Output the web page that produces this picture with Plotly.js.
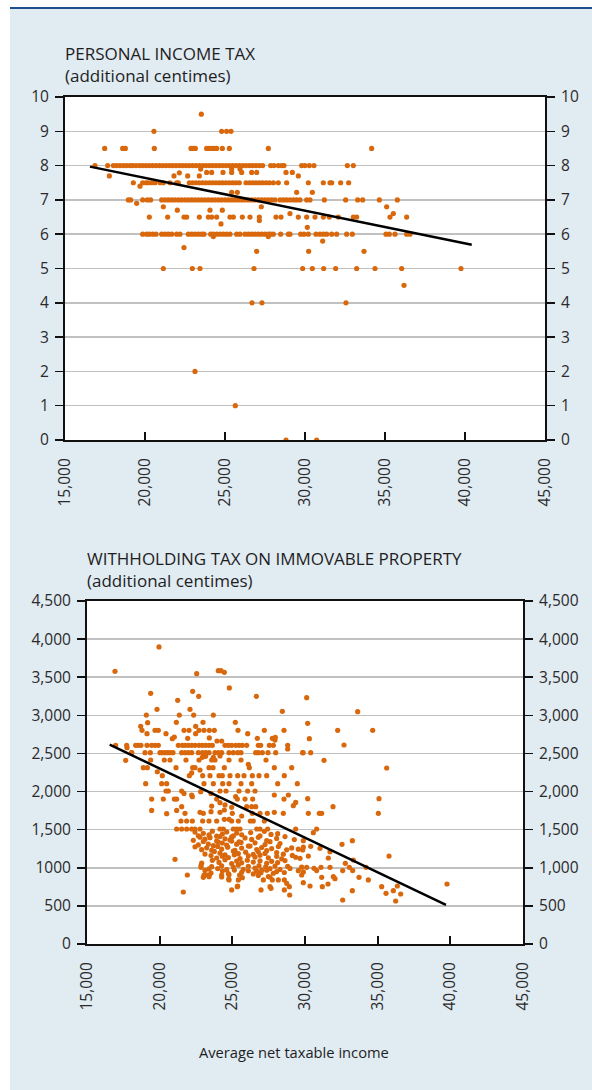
<!DOCTYPE html>
<html>
<head>
<meta charset="utf-8">
<script src="https://cdn.plot.ly/plotly-3.0.1.min.js"></script>
<style>
  html, body { margin: 0; padding: 0; background: #ffffff; }
  #panel { position: absolute; left: 10px; top: 7px; width: 582px; height: 1083px;
           background: #e1ebf2; border-top: 2px solid #1d4f8f; box-sizing: border-box; }
  #chart { position: absolute; left: 0; top: 0; width: 592px; height: 1090px; }
</style>
</head>
<body>
<div id="panel"></div>
<div id="chart"></div>
<script>
// ---------- Chart 1: Personal income tax (additional centimes) ----------
// x values (average net taxable income) of municipalities at each rate level
const pitLevels = [9.5, 9, 8.5, 8, 7.5, 7, 6.5, 6, 5, 4];
const pitAt95 = [23520];
const pitAt90 = [20560, 24790, 25100, 25375];
const pitAt85 = [17479, 18604, 18771, 20583, 22875, 23021, 23146, 23854, 24000, 24167, 24312, 24479, 24833, 25271, 27708, 34167];
const pitAt80 = [16875, 17667, 18021, 18229, 18437, 18646, 18854, 19062, 19229, 19437, 19646, 19854, 20062, 20271, 20479, 20687,
  20896, 21104, 21312, 21521, 21729, 21937, 22146, 22354, 22562, 22771, 22979, 23187, 23396, 23604, 23812, 24021, 24229,
  24437, 24646, 24854, 25062, 25271, 25479, 25687, 25896, 26104, 26312, 26521, 26729, 26937, 27146, 27354, 27854, 28062,
  28333, 28542, 28687, 29792, 30000, 30271, 30562, 32646, 33021];
const pitAt75 = [19271, 19854, 20062, 20208, 20417, 20625, 20937, 21146, 21562, 21979, 22083, 22771, 22979, 23187, 23396,
  23604, 23812, 24021, 24229, 24437, 24646, 24854, 25062, 25271, 25479, 25687, 25896, 26312, 26521, 26729, 26937, 27146,
  27354, 27562, 27771, 28021, 28333, 28854, 30208, 31146, 31562, 31667, 32229, 32729];
const pitAt70 = [18958, 19104, 19854, 20146, 20354, 21042, 21250, 21458, 21667, 21875, 22083, 22292, 22500, 22708, 22917,
  23125, 23333, 23542, 23750, 23958, 24167, 24375, 24583, 24792, 25000, 25208, 25417, 25625, 25833, 26042, 26250, 26458,
  26667, 26875, 27083, 27292, 27500, 27708, 27917, 28125, 28437, 28646, 28854, 29062, 29271, 29479, 29687, 30104, 30312,
  31208, 32542, 33292, 33604, 34646, 35771];
const pitAt65 = [20271, 21417, 22437, 22604, 23396, 23958, 24167, 24479, 25312, 25521, 26083, 26562, 27146, 28187, 28500,
  29583, 30104, 30625, 31146, 31521, 32083, 33021, 33229, 35312, 36354];
const pitAt60 = [19854, 20104, 20271, 20479, 20687, 21042, 21250, 21458, 21667, 21979, 22187, 22708, 22917, 23125, 23333,
  23542, 23687, 24104, 24271, 24479, 24687, 24896, 25104, 25312, 25729, 25937, 26250, 26458, 26667, 26875, 27083, 27292,
  27500, 27708, 27854, 28021, 28479, 28958, 29062, 29729, 29937, 30208, 30687, 30937, 31146, 31354, 31667, 31979, 32604,
  32958, 35062, 35271, 35625, 36354, 36562];
const pitAt50 = [21146, 22958, 23437, 26812, 29854, 30458, 31167, 31917, 33229, 34375, 36042, 39750];
const pitAt40 = [26690, 27310, 32560];
// scattered municipalities off the usual rate levels
const pitOtherX = [17771, 21812, 22146, 22667, 23396, 23479, 23854, 24167, 24875, 25417, 25417, 25937, 26042, 26667, 26979,
  28812, 29208, 29583, 19687, 25417, 25771, 29479, 30458, 19479, 21146, 22021, 24062, 24833, 27271, 29062, 35104, 35521,
  27146, 24750, 30146, 24271, 27708, 31104, 22437, 26979, 30229, 33687, 36187, 23125, 25646, 28812, 30729];
const pitOtherY = [7.7, 7.7, 7.79, 7.7, 7.7, 7.9, 7.8, 7.8, 7.8, 7.8, 7.9, 7.9, 7.8, 7.8, 7.8,
  7.8, 7.8, 7.7, 7.4, 7.22, 7.22, 7.22, 7.22, 6.9, 6.8, 6.7, 6.7, 6.7, 6.8, 6.6, 6.8, 6.6,
  6.4, 6.3, 6.2, 5.93, 5.93, 5.8, 5.61, 5.5, 5.5, 5.5, 4.51, 2.0, 1.0, 0, 0];
const pitTrendX = [16560, 40420];
const pitTrendY = [7.97, 5.69];

// ---------- Chart 2: Withholding tax on immovable property ----------
const whtX = [
  19954, 16927, 22546, 24037, 24220, 24450, 22271, 19381, 22684, 24794, 26652, 21239, 22087, 19817, 28440,
  19083, 21353, 22339, 23693, 25207, 19174, 21147, 22982, 18693, 22477,
  18785, 19679, 19908, 21674, 22019, 22706, 23050, 23417, 23761, 25390, 27202, 28555,
  19128, 20436, 22477, 26055, 21009, 20872, 23417, 21927, 26720, 27752, 27936, 23945, 24266, 27959,
  16972, 17729, 18349, 18532, 18715, 19128, 19449, 19679, 19908, 21285, 21560, 21743, 21972, 22202, 22431, 22706,
  22936, 23165, 23395, 23624, 24496, 24725, 24954, 25230, 25459, 25689, 25987, 26789, 26950, 27546, 27822, 28808,
  17752, 18073, 17661, 28808,
  18073, 18991, 19358, 20023, 20183, 20367, 20550, 20734, 20917, 21514, 21743, 21972, 22202, 22661, 22936, 23165,
  23395, 23807, 24037, 24266, 24771, 25069, 25367, 25597, 26606, 26789, 27064, 27454, 27982, 29863,
  23165, 23693, 22936, 24151,
  19381, 20321, 20711, 21812, 22706, 23578, 23807, 24771, 25597, 27317,
  26101, 26170, 18876, 19152, 21124, 22271, 22431, 23395, 23670, 24450, 27890, 29083,
  19840, 20183, 22041, 22202, 22775, 22959, 23463, 24082, 24312, 24840, 25367, 25803, 26376, 26835, 27363, 28578,
  19037, 20138, 20482, 23050, 23693, 24335, 24771, 25597, 26331, 28120, 29473,
  20436, 20596, 21514, 21674, 22202, 22821, 23532, 24151, 24564, 25459, 26055, 26560, 25230, 28853,
  19449, 20252, 21009, 21170, 22248, 23922, 25344, 25872, 26399, 27890, 28555, 29197, 29358,
  21514, 23578, 24496, 24954, 25987, 26331, 26606, 24151,
  19449, 20482, 21170, 21743, 22775, 23004, 23532, 24151, 24450, 25000, 25643, 26376, 26904, 27409, 27890, 28509,
  21468, 21858, 22248, 22959, 23395, 23922, 24450, 24771, 24954, 25413, 26239, 26445, 27202,
  21170, 21514, 21858, 22202, 22431, 22775, 24151, 24381, 25069, 25298, 25528, 26675, 26904, 27432, 29358,
  22431, 22661, 23005, 23395, 23624, 23922, 24312, 24610, 24954, 25298, 25642, 26262, 26904, 27202, 27661, 28120,
  22317, 22775, 23119, 23463, 23922, 24151, 24496, 24840, 25069, 25459, 25872, 26331, 26789, 27363, 28051, 28624, 29266,
  22661, 23005, 23349, 23693, 24037, 24312, 24610, 24954, 25298, 25597, 26101, 26560, 27248, 27592, 28280,
  22431, 22890, 23234, 23578, 23991, 24266, 24679, 25184, 25642, 26216, 26675, 27019, 27363, 27706, 28165, 28739, 29083, 29541, 29885,
  23119, 23762, 24151, 24496, 25069, 25413, 25917, 26445, 26789, 27248, 28051, 28509,
  23532, 23922, 24312, 24725, 25138, 25528, 26101, 26560, 26904, 27477, 28051, 28395, 29129, 29358,
  22890, 23624, 24082, 24496, 24954, 25298, 25642, 26032, 26445, 26904, 27363, 27706, 28120, 28624,
  22844, 23395, 23578, 23991, 24266, 24610, 25069, 25413, 25757, 26101, 26560, 26835, 27019, 27294, 27592, 27936, 28280, 28808, 28968, 29771,
  23119, 23532, 24312, 24725, 25138, 25642, 26101, 26445, 26675, 26973, 27363, 27821, 28051, 28578, 29541, 29885,
  21904, 23005, 23395, 24266, 24771, 25688, 26789, 27477, 27592,
  24771, 25413, 27133, 27752, 28165, 28578, 28739, 25367, 27592, 27661, 28922, 24954, 26973, 28578, 21628, 28945, 21055,
  22844, 23050, 23325, 23394, 24266, 24748, 25340, 25500,
  30115, 33624, 30184, 32248, 34657, 30299, 32684, 29840, 30391, 31308, 35620, 30184, 35092, 31927,
  30230, 30987, 31147, 35047, 30803, 30574, 29886, 33258, 32546, 30391, 29840, 31033, 31721,
  29657, 30230, 31606, 33326, 35781, 30115, 30620, 30803, 31102, 31721, 32592, 33051, 33280, 32776, 34198,
  29771, 31147, 31950, 32065, 33716, 34358, 29886, 30345, 31193, 31583, 35276, 36354, 36079, 35574, 36583,
  33257, 32592, 36239, 39771
];
const whtY = [
  3897, 3577, 3547, 3586, 3586, 3564, 3315, 3289, 3249, 3359, 3249, 3197, 3079, 3079, 3053,
  3004, 3004, 3004, 3004, 2908, 2904, 2908, 2908, 2856, 2856,
  2803, 2803, 2803, 2803, 2803, 2803, 2803, 2803, 2803, 2803, 2803, 2803,
  2760, 2760, 2760, 2760, 2716, 2694, 2703, 2698, 2698, 2698, 2676, 2663, 2663, 2711,
  2606, 2606, 2606, 2606, 2606, 2606, 2606, 2606, 2606, 2606, 2606, 2606, 2606, 2606, 2606, 2606,
  2606, 2606, 2606, 2606, 2606, 2606, 2606, 2606, 2606, 2606, 2606, 2606, 2606, 2606, 2606, 2606,
  2576, 2510, 2410, 2558,
  2510, 2510, 2510, 2510, 2510, 2510, 2510, 2510, 2510, 2510, 2510, 2510, 2510, 2510, 2510, 2510,
  2510, 2510, 2510, 2510, 2510, 2510, 2510, 2510, 2510, 2510, 2510, 2510, 2510, 2510,
  2462, 2449, 2449, 2467,
  2414, 2414, 2414, 2414, 2414, 2414, 2414, 2414, 2414, 2414,
  2357, 2313, 2313, 2313, 2313, 2313, 2313, 2313, 2313, 2313, 2313, 2313,
  2260, 2209, 2209, 2245, 2282, 2209, 2209, 2209, 2209, 2209, 2209, 2209, 2209, 2209, 2209, 2209,
  2104, 2104, 2104, 2104, 2104, 2104, 2104, 2104, 2104, 2104, 2104,
  2007, 2007, 2007, 1976, 1955, 1998, 1976, 2007, 2007, 2007, 2007, 2007, 1933, 1955,
  1902, 1902, 1902, 1902, 1933, 1902, 1902, 1902, 1902, 1955, 1902, 1815, 1858,
  1802, 1810, 1824, 1793, 1802, 1802, 1802, 1854,
  1753, 1710, 1753, 1714, 1727, 1714, 1736, 1727, 1758, 1714, 1679, 1714, 1714, 1714, 1727, 1714,
  1614, 1614, 1614, 1614, 1614, 1614, 1636, 1636, 1614, 1614, 1614, 1614, 1614,
  1509, 1509, 1509, 1509, 1509, 1509, 1509, 1509, 1509, 1509, 1509, 1509, 1509, 1509, 1509,
  1468, 1420, 1452, 1431, 1480, 1415, 1443, 1470, 1405, 1455, 1433, 1462, 1418, 1478, 1438, 1448,
  1360, 1402, 1375, 1395, 1350, 1410, 1380, 1365, 1418, 1340, 1392, 1372, 1400, 1355, 1385, 1410, 1370,
  1300, 1345, 1312, 1290, 1338, 1325, 1298, 1350, 1310, 1332, 1285, 1328, 1305, 1342, 1318,
  1275, 1238, 1262, 1230, 1280, 1245, 1270, 1228, 1258, 1285, 1240, 1266, 1225, 1252, 1278, 1235, 1260, 1244, 1270,
  1180, 1215, 1192, 1170, 1220, 1185, 1205, 1175, 1210, 1188, 1200, 1178,
  1160, 1128, 1152, 1135, 1170, 1122, 1158, 1140, 1165, 1130, 1150, 1118, 1162, 1138,
  1060, 1098, 1070, 1105, 1055, 1088, 1065, 1100, 1075, 1092, 1058, 1085, 1068, 1095,
  1030, 985, 1015, 990, 1025, 975, 1010, 1035, 980, 1020, 995, 1028, 970, 1012, 988, 1022, 978, 1018, 992, 1008,
  965, 930, 958, 925, 970, 940, 960, 920, 955, 935, 968, 928, 950, 938, 962, 945,
  905, 875, 898, 880, 910, 870, 900, 885, 878,
  840, 840, 840, 840, 840, 840, 796, 761, 752, 730, 752, 709, 709, 709, 682, 643, 1111,
  1006, 905, 905, 883, 905, 853, 752, 905,
  3232, 3048, 2895, 2803, 2803, 2694, 2611, 2510, 2510, 2410, 2309, 1907, 1907, 1802,
  1714, 1714, 1714, 1714, 1509, 1461, 1356, 1356, 1308, 1281, 1233, 1255, 1211,
  1124, 1154, 1128, 1102, 1154, 1006, 993, 963, 1006, 1006, 963, 1006, 963, 1058, 1006,
  905, 875, 883, 857, 875, 840, 805, 761, 752, 787, 752, 761, 700, 665, 656,
  700, 577, 564, 787
];
const whtTrendX = [16560, 39700];
const whtTrendY = [2615, 512];

// ---------- Axes text ----------
const xTicks = [15000, 20000, 25000, 30000, 35000, 40000, 45000];
const pitTicks = [0, 1, 2, 3, 4, 5, 6, 7, 8, 9, 10];
const whtTicks = [0, 500, 1000, 1500, 2000, 2500, 3000, 3500, 4000, 4500];
const whtTickTextLeft = ['0', '500', '1000', '1,500', '2,000', '2,500', '3,000', '3,500', '4,000', '4,500'];
const whtTickTextRight = ['0', '500', '1,000', '1,500', '2,000', '2,500', '3,000', '3,500', '4,000', '4,500'];
const title1 = 'PERSONAL INCOME TAX';
const title2 = 'WITHHOLDING TAX ON IMMOVABLE PROPERTY';
const subtitle = '(additional centimes)';
const xTitle = 'Average net taxable income';

// build chart 1 points from the rate-level arrays
const pitRows = [pitAt95, pitAt90, pitAt85, pitAt80, pitAt75, pitAt70, pitAt65, pitAt60, pitAt50, pitAt40];
let pitX = [], pitY = [];
pitRows.forEach((row, i) => { row.forEach(v => { pitX.push(v); pitY.push(pitLevels[i]); }); });
pitX = pitX.concat(pitOtherX); pitY = pitY.concat(pitOtherY);

const W = 592, H = 1090;
const orange = '#d9680c';
const FONT = '"Open Sans", "Noto Sans", sans-serif';
const tickFont = { family: FONT, size: 15.5, color: '#2a2a2a' };

const traces = [
  { x: pitX, y: pitY, xaxis: 'x', yaxis: 'y', type: 'scatter', mode: 'markers',
    marker: { color: orange, size: 5.2 }, hoverinfo: 'skip' },
  { x: pitTrendX, y: pitTrendY, xaxis: 'x', yaxis: 'y', type: 'scatter', mode: 'lines',
    line: { color: '#000000', width: 2.5 }, hoverinfo: 'skip' },
  // invisible carrier so the right-hand axis is drawn
  { x: pitTrendX, y: pitTrendY, xaxis: 'x', yaxis: 'y2', type: 'scatter', mode: 'lines',
    line: { color: 'rgba(0,0,0,0)', width: 0 }, hoverinfo: 'skip' },
  { x: whtX, y: whtY, xaxis: 'x2', yaxis: 'y3', type: 'scatter', mode: 'markers',
    marker: { color: orange, size: 5.2 }, hoverinfo: 'skip' },
  { x: whtTrendX, y: whtTrendY, xaxis: 'x2', yaxis: 'y3', type: 'scatter', mode: 'lines',
    line: { color: '#000000', width: 2.5 }, hoverinfo: 'skip' },
  { x: whtTrendX, y: whtTrendY, xaxis: 'x2', yaxis: 'y4', type: 'scatter', mode: 'lines',
    line: { color: 'rgba(0,0,0,0)', width: 0 }, hoverinfo: 'skip' }
];

function xAxis(domain, anchor) {
  return {
    domain: domain, anchor: anchor, range: [15000, 45000], tickvals: xTicks, tickformat: ',d',
    tickangle: -90, ticks: 'inside', ticklen: 8, tickwidth: 2, tickcolor: '#111',
    showline: true, linecolor: '#111', linewidth: 2, mirror: true,
    showgrid: false, zeroline: false, tickfont: tickFont, ticklabelstandoff: 10, fixedrange: true
  };
}
function yAxis(domain, anchor, range, vals, text, side, overlay) {
  const a = {
    domain: domain, anchor: anchor, range: range, tickvals: vals, ticktext: text, side: side,
    ticks: 'outside', ticklen: 8, tickwidth: 1.5, tickcolor: '#111',
    showline: true, linecolor: '#111', linewidth: 2,
    showgrid: !overlay, gridcolor: '#c0c0c0', gridwidth: 1.5,
    zeroline: false, tickfont: tickFont, ticklabelstandoff: 3, fixedrange: true
  };
  if (overlay) { a.overlaying = overlay; delete a.domain; }
  return a;
}

const d1x = [65 / W, 545 / W], d1y = [1 - 440 / H, 1 - 97 / H];
const d2x = [87 / W, 523 / W], d2y = [1 - 944 / H, 1 - 601 / H];
const pitText = pitTicks.map(String);
const titleFont = { family: FONT, size: 17, color: '#1e1e1e' };

const layout = {
  width: W, height: H, showlegend: false, hovermode: false,
  margin: { l: 0, r: 0, t: 0, b: 0, pad: 0 },
  paper_bgcolor: 'rgba(0,0,0,0)', plot_bgcolor: '#ffffff',
  xaxis: xAxis(d1x, 'y'),
  yaxis: yAxis(d1y, 'x', [0, 10], pitTicks, pitText, 'left'),
  yaxis2: yAxis(d1y, 'x', [0, 10], pitTicks, pitText, 'right', 'y'),
  xaxis2: xAxis(d2x, 'y3'),
  yaxis3: yAxis(d2y, 'x2', [0, 4500], whtTicks, whtTickTextLeft, 'left'),
  yaxis4: yAxis(d2y, 'x2', [0, 4500], whtTicks, whtTickTextRight, 'right', 'y3'),
  annotations: [
    { text: title1 + '<br>' + subtitle, xref: 'paper', yref: 'paper', x: 63 / W, y: 1 - 65 / H,
      xanchor: 'left', yanchor: 'middle', align: 'left', showarrow: false, font: titleFont },
    { text: title2 + '<br>' + subtitle, xref: 'paper', yref: 'paper', x: 85 / W, y: 1 - 569 / H,
      xanchor: 'left', yanchor: 'middle', align: 'left', showarrow: false, font: titleFont },
    { text: xTitle, xref: 'paper', yref: 'paper', x: 293.5 / W, y: 1 - 1051.5 / H, xanchor: 'center', yanchor: 'middle',
      showarrow: false, font: { family: FONT, size: 14.7, color: '#1e1e1e' } }
  ]
};

Plotly.newPlot('chart', traces, layout, { staticPlot: true, displayModeBar: false });
</script>
</body>
</html>
